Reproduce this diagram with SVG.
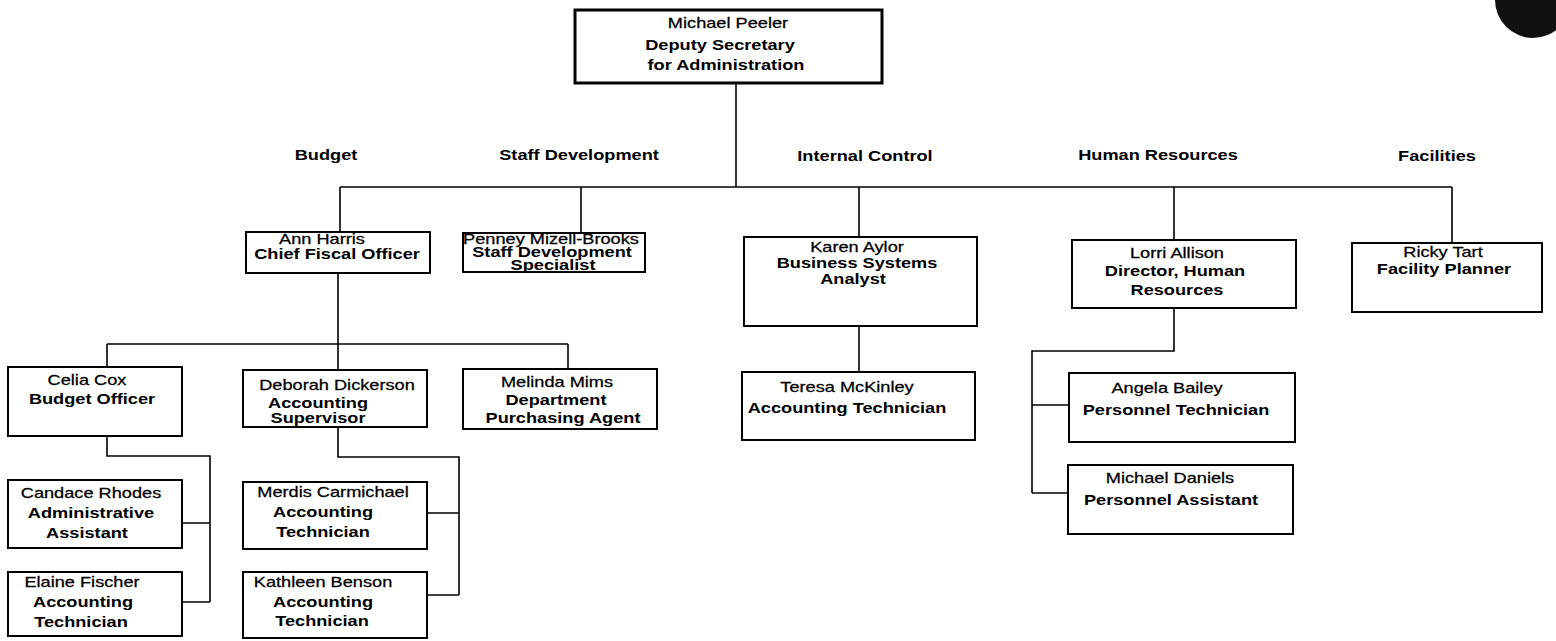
<svg xmlns="http://www.w3.org/2000/svg" width="1556" height="641" viewBox="0 0 1556 641">
<style>
.box{fill:#fff;stroke:#000;stroke-width:2}
.top{stroke-width:3}
.c{fill:none;stroke:#000;stroke-width:1.6}
text{font-family:"Liberation Sans",Arial,sans-serif;font-size:14px;text-anchor:middle;fill:#000}
.n{font-weight:normal;stroke:#000;stroke-width:0.25}
.t{font-weight:bold}
.h{font-weight:bold}
</style>
<rect width="1556" height="641" fill="#fff"/>
<circle cx="1533" cy="0" r="38" fill="#111"/>
<g id="connectors">
<path class="c" d="M736 83V187M340 187H1452M340 187V232M581 187V233M859 187V237M1174 187V240M1452 187V243"/>
<path class="c" d="M338 273V344M107 344H568M107 344V367M338 344V370M568 344V369"/>
<path class="c" d="M107 436V456H210V602M210 523H182M210 602H182"/>
<path class="c" d="M338 427V457H459V595M459 513H427M459 595H427"/>
<path class="c" d="M859 326V372"/>
<path class="c" d="M1174 308V351H1032V493M1032 405H1069M1032 493H1068"/>
</g>
<g id="labels">
<text class="h" transform="translate(326,160) scale(1.3,1)">Budget</text>
<text class="h" transform="translate(579,160) scale(1.3,1)">Staff Development</text>
<text class="h" transform="translate(865,161) scale(1.3,1)">Internal Control</text>
<text class="h" transform="translate(1158,160) scale(1.3,1)">Human Resources</text>
<text class="h" transform="translate(1437,161) scale(1.3,1)">Facilities</text>
</g>
<g id="peeler">
<rect class="box top" x="575" y="10" width="307" height="73"/>
<text class="n" transform="translate(728,28) scale(1.3,1)">Michael Peeler</text>
<text class="t" transform="translate(720,50) scale(1.3,1)">Deputy Secretary</text>
<text class="t" transform="translate(726,70) scale(1.3,1)">for Administration</text>
</g>
<g id="harris">
<rect class="box" x="246" y="232" width="184" height="41"/>
<text class="n" transform="translate(322,244) scale(1.3,1)">Ann Harris</text>
<text class="t" transform="translate(337,259) scale(1.3,1)">Chief Fiscal Officer</text>
</g>
<g id="mizell">
<rect class="box" x="463" y="233" width="182" height="39"/>
<text class="n" transform="translate(551,244) scale(1.3,1)">Penney Mizell-Brooks</text>
<text class="t" transform="translate(552,257) scale(1.3,1)">Staff Development</text>
<text class="t" transform="translate(553,270) scale(1.3,1)">Specialist</text>
</g>
<g id="aylor">
<rect class="box" x="744" y="237" width="233" height="89"/>
<text class="n" transform="translate(857,252) scale(1.3,1)">Karen Aylor</text>
<text class="t" transform="translate(857,268) scale(1.3,1)">Business Systems</text>
<text class="t" transform="translate(853,284) scale(1.3,1)">Analyst</text>
</g>
<g id="allison">
<rect class="box" x="1072" y="240" width="224" height="68"/>
<text class="n" transform="translate(1177,258) scale(1.3,1)">Lorri Allison</text>
<text class="t" transform="translate(1175,276) scale(1.3,1)">Director, Human</text>
<text class="t" transform="translate(1177,295) scale(1.3,1)">Resources</text>
</g>
<g id="tart">
<rect class="box" x="1352" y="243" width="190" height="69"/>
<text class="n" transform="translate(1443,257) scale(1.3,1)">Ricky Tart</text>
<text class="t" transform="translate(1444,274) scale(1.3,1)">Facility Planner</text>
</g>
<g id="cox">
<rect class="box" x="8" y="367" width="174" height="69"/>
<text class="n" transform="translate(87,385) scale(1.3,1)">Celia Cox</text>
<text class="t" transform="translate(92,404) scale(1.3,1)">Budget Officer</text>
</g>
<g id="dickerson">
<rect class="box" x="243" y="370" width="184" height="57"/>
<text class="n" transform="translate(337,390) scale(1.3,1)">Deborah Dickerson</text>
<text class="t" transform="translate(318,408) scale(1.3,1)">Accounting</text>
<text class="t" transform="translate(318,423) scale(1.3,1)">Supervisor</text>
</g>
<g id="mims">
<rect class="box" x="463" y="369" width="194" height="60"/>
<text class="n" transform="translate(557,387) scale(1.3,1)">Melinda Mims</text>
<text class="t" transform="translate(556,405) scale(1.3,1)">Department</text>
<text class="t" transform="translate(563,423) scale(1.3,1)">Purchasing Agent</text>
</g>
<g id="mckinley">
<rect class="box" x="742" y="372" width="233" height="68"/>
<text class="n" transform="translate(847,392) scale(1.3,1)">Teresa McKinley</text>
<text class="t" transform="translate(847,413) scale(1.3,1)">Accounting Technician</text>
</g>
<g id="bailey">
<rect class="box" x="1069" y="373" width="226" height="69"/>
<text class="n" transform="translate(1167,393) scale(1.3,1)">Angela Bailey</text>
<text class="t" transform="translate(1176,415) scale(1.3,1)">Personnel Technician</text>
</g>
<g id="daniels">
<rect class="box" x="1068" y="465" width="225" height="69"/>
<text class="n" transform="translate(1170,483) scale(1.3,1)">Michael Daniels</text>
<text class="t" transform="translate(1171,505) scale(1.3,1)">Personnel Assistant</text>
</g>
<g id="rhodes">
<rect class="box" x="8" y="480" width="174" height="68"/>
<text class="n" transform="translate(91,498) scale(1.3,1)">Candace Rhodes</text>
<text class="t" transform="translate(91,518) scale(1.3,1)">Administrative</text>
<text class="t" transform="translate(87,538) scale(1.3,1)">Assistant</text>
</g>
<g id="fischer">
<rect class="box" x="8" y="572" width="174" height="64"/>
<text class="n" transform="translate(82,587) scale(1.3,1)">Elaine Fischer</text>
<text class="t" transform="translate(83,607) scale(1.3,1)">Accounting</text>
<text class="t" transform="translate(81,627) scale(1.3,1)">Technician</text>
</g>
<g id="carmichael">
<rect class="box" x="243" y="482" width="184" height="67"/>
<text class="n" transform="translate(333,497) scale(1.3,1)">Merdis Carmichael</text>
<text class="t" transform="translate(323,517) scale(1.3,1)">Accounting</text>
<text class="t" transform="translate(323,537) scale(1.3,1)">Technician</text>
</g>
<g id="benson">
<rect class="box" x="243" y="572" width="184" height="66"/>
<text class="n" transform="translate(323,587) scale(1.3,1)">Kathleen Benson</text>
<text class="t" transform="translate(323,607) scale(1.3,1)">Accounting</text>
<text class="t" transform="translate(322,626) scale(1.3,1)">Technician</text>
</g>
</svg>
